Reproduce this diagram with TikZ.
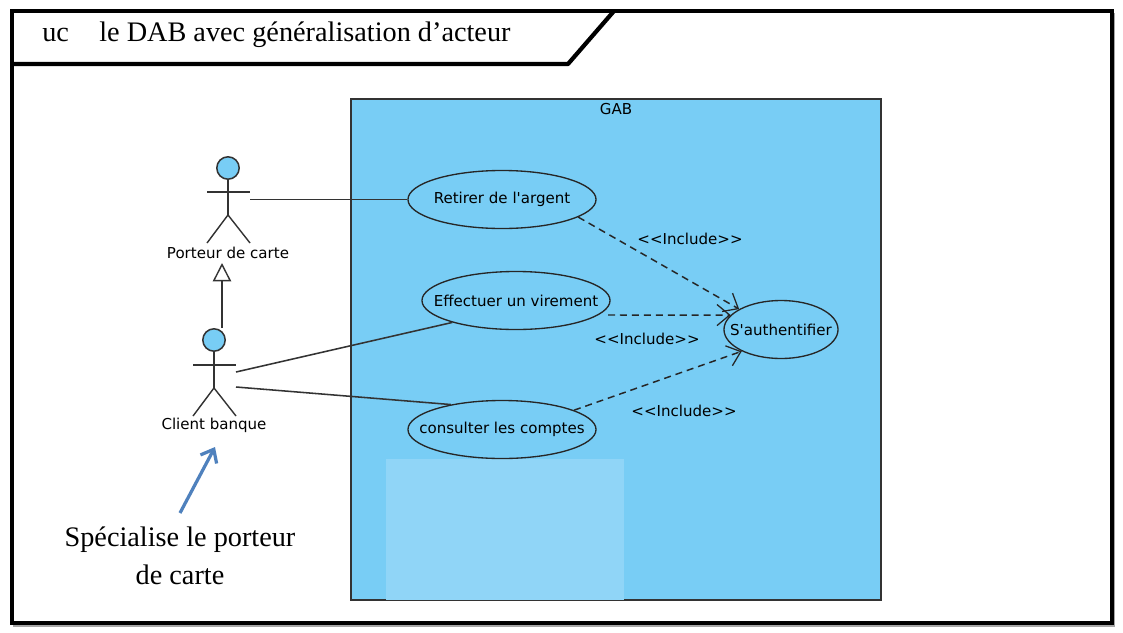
\documentclass[tikz,border=0pt]{standalone}
\usepackage{xcolor}
\usepackage{fontspec}
\setmainfont{Liberation Serif}
\newfontfamily\labelfont{DejaVu Sans}
\usepackage{tikz}
\usetikzlibrary{calc}
\usetikzlibrary{arrows.meta}
\usetikzlibrary{shapes.geometric}
\definecolor{gabblue}{HTML}{78CDF5}
\definecolor{gablight}{HTML}{90D5F7}
\definecolor{notearrow}{HTML}{4F81BD}
\definecolor{inkline}{HTML}{333333}
\tikzset{
  every node/.style={font=\labelfont\fontsize{10.7}{12}\selectfont, inner sep=0pt, text=black},
  usecase/.style={draw=black!85, ellipse, fill=gabblue, line width=.95pt, inner xsep=-1cm, inner ysep=-.2cm, minimum width=4.7cm, minimum height=1.45cm},
  head/.style={draw=inkline, circle, fill=gabblue, line width=1.1pt, minimum size=.56cm},
  limb/.style={draw=inkline, line width=1pt},
  assoc/.style={draw=inkline, line width=1.1pt},
  incl/.style={draw=black!85, line width=1.05pt, dash pattern=on 5pt off 3.5pt, -{Straight Barb[length=9pt,width=15pt,line width=.9pt]}},
  serif/.style={font=\rmfamily\fontsize{20.1}{23}\selectfont, text=black},
}
\begin{document}
\begin{tikzpicture}[x=.025cm, y=-.025cm]
    \useasboundingbox (0,0) rectangle (1123,632);
    \fill[white] (0,0) rectangle (1123,632);

    \draw[black!35, line width=2pt] (14,14) rectangle (1114,626);
    \draw[black!35, line width=1.5pt] (14,66) -- (570,66) -- (616,13);
    \draw[black, line width=3pt, fill=white] (12,11) rectangle (1112,623);
    \draw[black, line width=3pt, line join=round] (12,64) -- (568,64) -- (614,11);
    \node[serif, anchor=base west] (uc) at (42,41) {uc};
    \node[serif, anchor=base west] (title) at (99,41) {le DAB avec généralisation d’acteur};

    \draw[inkline, line width=1pt, fill=gabblue] (351,99) rectangle (881,600);
    \fill[gablight] (386,459) rectangle (624,600);
    \node (gab) at (616,109) {GAB};

    \node[usecase] (retirer) at (502,199.5) {Retirer de l'argent};
    \node[usecase] (virement) at (516,300.5) {Effectuer un virement};
    \node[usecase] (comptes) at (502,429.5) {consulter les comptes};
    \node[usecase, minimum width=2.85cm] (auth) at (781,329.5) {S'authentifier};

    \node[head] (porteurhead) at (228,168) {};
    \draw[limb] (porteurhead.south) -- ++(0,35) coordinate (porteurhip);
    \draw[limb] ($(porteurhead.south)+(-21,12)$) -- ++(43,0);
    \draw[limb] (207,243) -- (porteurhip) -- (250,243);
    \node (porteur) at (228,253) {Porteur de carte};

    \node[head] (clienthead) at (214,340) {};
    \draw[limb] (clienthead.south) -- ++(0,36) coordinate (clienthip);
    \draw[limb] ($(clienthead.south)+(-21,13)$) -- ++(43,0);
    \draw[limb] (193,416) -- (clienthip) -- (236,416);
    \node (client) at (214,425) {Client banque};

    \coordinate (porteurhand) at (250,199.5);
    \coordinate (clienthand) at (236,372);
    \coordinate (clientfoot) at (236,387);
    \coordinate (genstart) at (222,328);
    \coordinate (gentip) at (222,263);
    \coordinate (virementdep) at (608,315);

    \draw[assoc] (porteurhand) -- (retirer.west);
    \draw[assoc] (clienthand) -- (virement.199);
    \draw[assoc] (clientfoot) -- (comptes.154);
    \draw[limb, -{Triangle[open,fill=white,length=13pt,width=13pt,line width=1pt]}] (genstart) -- (gentip);

    \draw[incl] (retirer.-13) -- (auth.154);
    \draw[incl] (virementdep) -- (auth.164);
    \draw[incl] (comptes.15) -- (auth.209);

    \node (inclA) at (690,239) {<<Include>>};
    \node (inclB) at (647,339) {<<Include>>};
    \node (inclC) at (684,411) {<<Include>>};

    \coordinate (notestart) at (180,513);
    \coordinate (notetip) at (215,447);
    \draw[notearrow, line width=2.3pt, -{Straight Barb[length=8pt,width=13pt,line width=2.3pt]}] (notestart) -- (notetip);
    \node[serif] (noteA) at (180,540) {Spécialise le porteur};
    \node[serif] (noteB) at (180,575) {de carte};
\end{tikzpicture}
\end{document}
